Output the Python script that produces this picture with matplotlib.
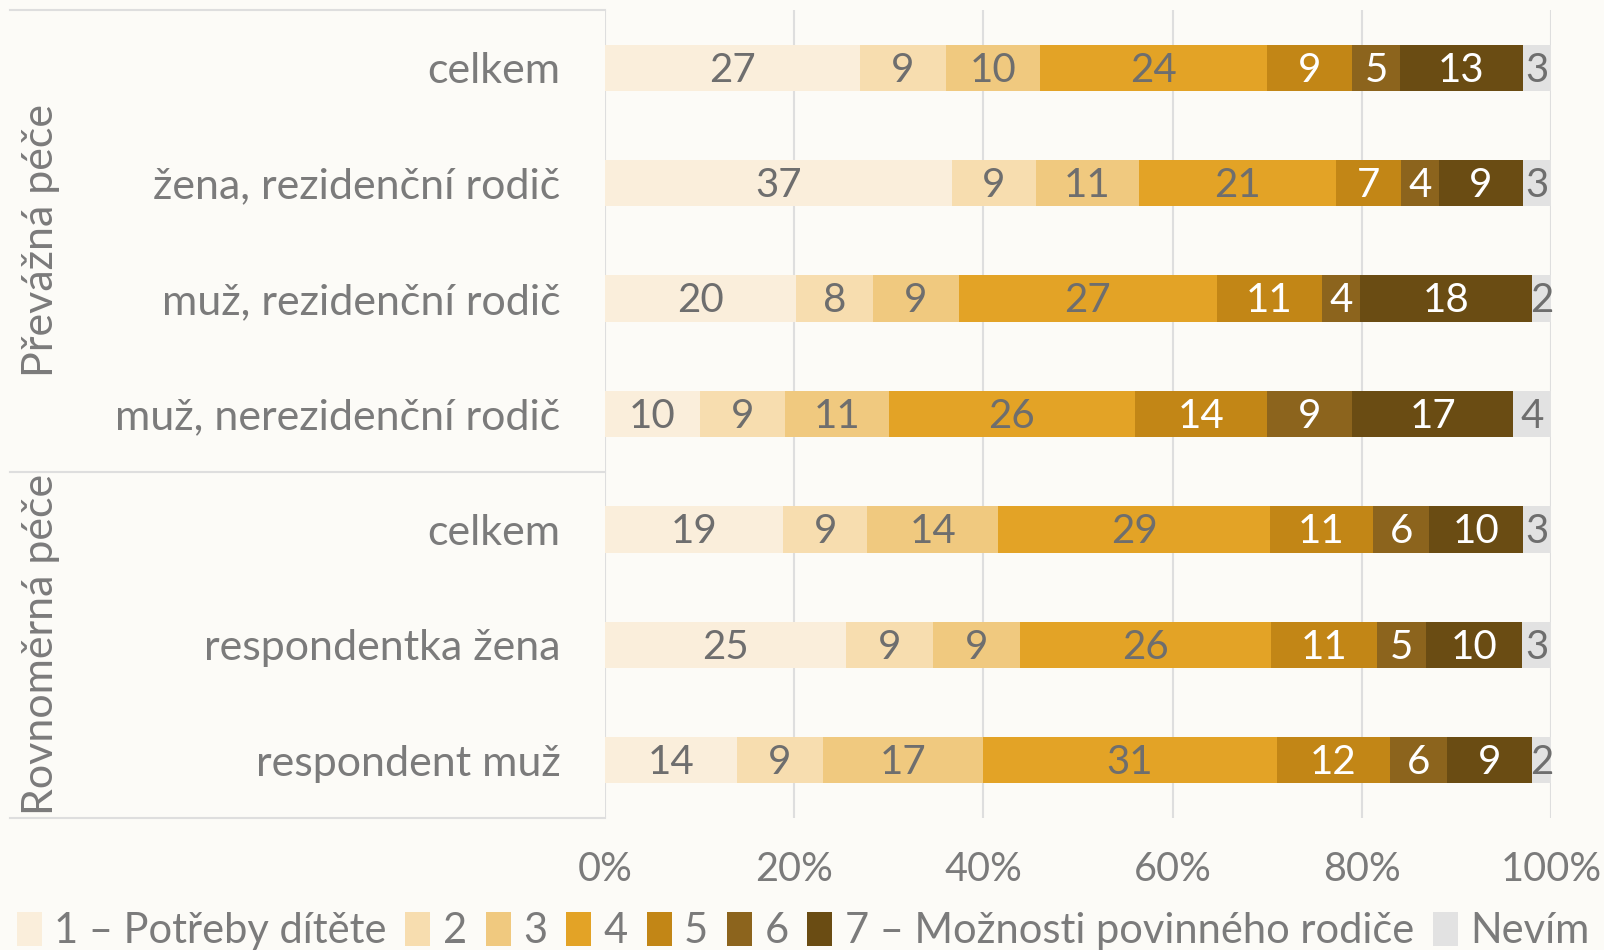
import matplotlib.pyplot as plt
import matplotlib.transforms as mtransforms
from matplotlib.patches import Patch
from matplotlib.lines import Line2D

plt.rcParams['font.family'] = ['Lato', 'DejaVu Sans']

# data
categories = ['celkem', 'žena, rezidenční rodič', 'muž, rezidenční rodič',
              'muž, nerezidenční rodič', 'celkem', 'respondentka žena',
              'respondent muž']
groups = ['Převážná péče', 'Rovnoměrná péče']
group_rows = [(0, 3), (4, 6)]
series = ['1 – Potřeby dítěte', '2', '3', '4', '5', '6',
          '7 – Možnosti povinného rodiče', 'Nevím']
values = [
    [27, 9, 10, 24, 9, 5, 13, 3],
    [37, 9, 11, 21, 7, 4, 9, 3],
    [20, 8, 9, 27, 11, 4, 18, 2],
    [10, 9, 11, 26, 14, 9, 17, 4],
    [19, 9, 14, 29, 11, 6, 10, 3],
    [25, 9, 9, 26, 11, 5, 10, 3],
    [14, 9, 17, 31, 12, 6, 9, 2],
]
colors = ['#FAEEDB', '#F7DDAF', '#F0C97F', '#E3A326', '#C28616',
          '#8C641D', '#6A4C13', '#E2E2E2']
label_colors = ['#6e6e6e'] * 4 + ['white'] * 3 + ['#6e6e6e']

bg = '#FCFBF7'
grey = '#7b7b7b'
line_c = '#dedede'

W, H = 1604, 950
fig = plt.figure(figsize=(W / 100, H / 100), dpi=100, facecolor=bg)
ax = fig.add_axes([605 / W, 1 - 818 / H, (1551 - 605) / W, (818 - 10) / H])
ax.set_facecolor(bg)

ypos = list(range(len(categories)))
for i, row in enumerate(values):
    total = sum(row)
    left = 0
    for j, v in enumerate(row):
        w = v / total * 100
        ax.barh(i, w, left=left, height=0.4, color=colors[j], zorder=2)
        ax.text(left + w / 2, i + 0.02, str(v), ha='center', va='center',
                fontsize=29, color=label_colors[j], zorder=3)
        left += w

ax.set_xlim(0, 100)
ax.set_ylim(6.5, -0.5)
ax.set_xticks(range(0, 101, 20))
ax.set_xticklabels([f'{t}%' for t in range(0, 101, 20)])
ax.set_yticks(ypos)
ax.set_yticklabels(categories)
ax.tick_params(axis='x', length=0, pad=24, labelsize=28.5, labelcolor=grey)
ax.tick_params(axis='y', length=0, pad=32, labelsize=31, labelcolor=grey)
ax.grid(axis='x', color=line_c, lw=1.5, zorder=0)
for s in ax.spines.values():
    s.set_visible(False)

# group separators and labels
tr = mtransforms.blended_transform_factory(fig.transFigure, ax.transData)
for y in [-0.5, 3.5, 6.5]:
    fig.add_artist(Line2D([10 / W, 605 / W], [y, y], transform=tr,
                          color=line_c, lw=1.5))
for g, (a, b) in zip(groups, group_rows):
    fig.text(41 / W, (a + b) / 2, g, transform=tr, rotation=90,
             ha='center', va='center', fontsize=31, color=grey)

handles = [Patch(facecolor=c) for c in colors]
fig.legend(handles, series, ncol=8, loc='lower left',
           bbox_to_anchor=(0, -0.018), frameon=False, fontsize=30,
           labelcolor=grey, handlelength=0.6, handleheight=0.9,
           handletextpad=0.3, columnspacing=0.45, borderaxespad=0)

fig.savefig('out.png', dpi=100, facecolor=bg)
